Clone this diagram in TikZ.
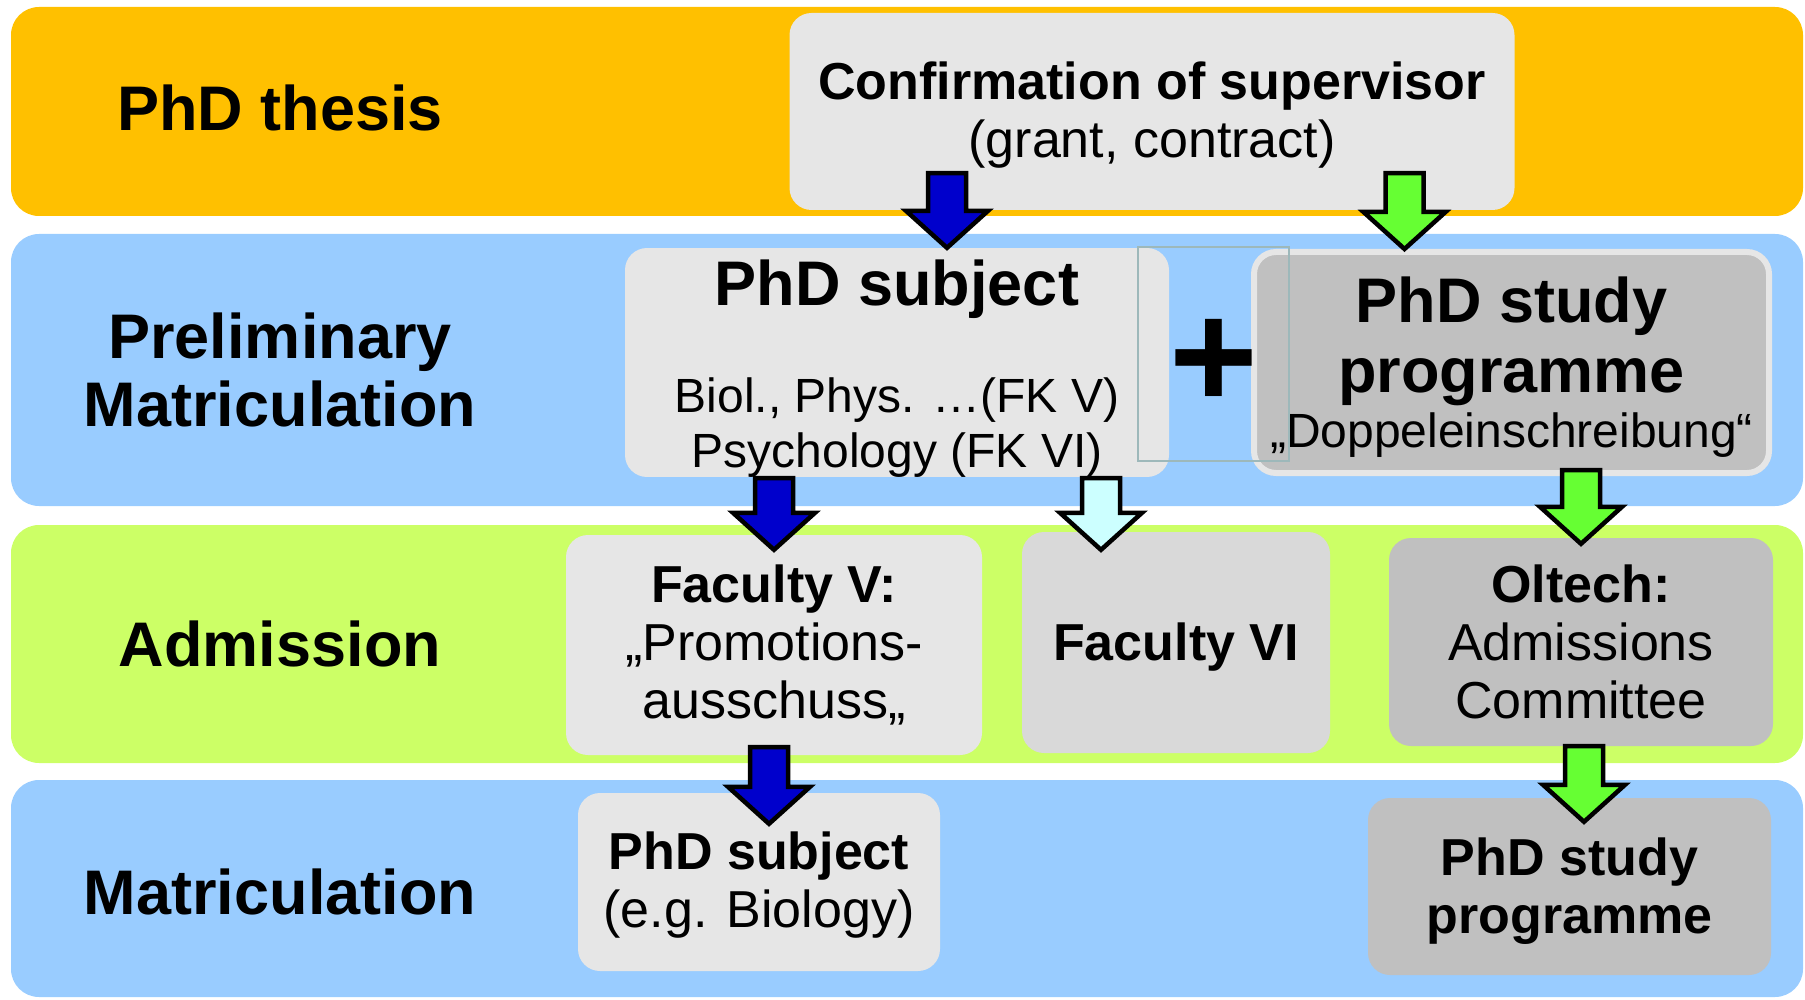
\documentclass[tikz,border=0pt]{standalone}
\usepackage{fontspec}
\setmainfont{Liberation Sans}
\usetikzlibrary{
  calc,
  positioning}

\definecolor{bandorange}{HTML}{FFC000}
\definecolor{bandblue}{HTML}{99CCFF}
\definecolor{bandgreen}{HTML}{CCFF66}
\definecolor{boxlight}{HTML}{E6E6E6}
\definecolor{boxmid}{HTML}{D9D9D9}
\definecolor{boxdark}{HTML}{C0C0C0}
\definecolor{arrowblue}{HTML}{0000CC}
\definecolor{arrowgreen}{HTML}{66FF33}
\definecolor{arrowcyan}{HTML}{CCFFFF}
\definecolor{framegray}{HTML}{9DB8BA}

\begin{document}
\begin{tikzpicture}[x=1pt,y=-1pt]
  \tikzset{band/.style={rounded corners=28pt,
                        fill=#1},
           box/.style={rectangle,
                       rounded corners=22pt,
                       fill=#1,
                       align=center,
                       inner sep=0pt,
                       font=\fontsize{52}{58}\selectfont},
           phase/.style={align=center,
                         font=\fontsize{63}{68}\selectfont\bfseries},
           fat/.style={fill=#1, draw=black, line width=4.5pt,
                       to path={let \p1=(\tikztostart), \p2=(\tikztotarget) in
                                (\x2-19pt,\y1) -- (\x2+19pt,\y1) -- (\x2+19pt,\y2+37pt)
                                -- (\x2+41pt,\y2+37pt) -- (\x2,\y2) -- (\x2-41pt,\y2+37pt)
                                -- (\x2-19pt,\y2+37pt) -- cycle}}
          }

\useasboundingbox (0,0) rectangle (1805,1000);

%%%%%%%%%%%%%%%%%%%%%%%%%%%%%%%%%%%%%%%%%%%%%%%%%%%%%%%%%%%%%%%%%%%%%%%%%%%%%%

\fill[band=bandorange] (11,7) rectangle (1803,216);
\fill[band=bandblue] (11,234) rectangle (1803,506);
\fill[band=bandgreen] (11,525) rectangle (1803,763);
\fill[band=bandblue] (11,780) rectangle (1803,997);

\node[phase] (thesis) at (280,108) {PhD thesis};
\node[phase] (prelim) at (280,369.5) {Preliminary\\Matriculation};
\node[phase] (admis) at (280,643.5) {Admission};
\node[phase] (matric) at (280,891.5) {Matriculation};

%%%%%%%%%%%%%%%%%%%%%%%%%%%%%%%%%%%%%%%%%%%%%%%%%%%%%%%%%%%%%%%%%%%%%%%%%%%%%%

\node[box=boxlight,minimum width=725pt,minimum height=197pt] (conf) at (1152,111.5) {\rule{0pt}{44pt}{\bfseries Confirmation of supervisor}\\(grant, contract)};

\node[box=boxlight,minimum width=544pt,minimum height=227pt,font=\fontsize{48}{51}\selectfont] (subj) at (897,362.5) {\rule{0pt}{57pt}{\fontsize{63}{63}\selectfont\bfseries PhD subject}\\[56pt]Biol., Phys. …(FK V)\\[4pt]Psychology (FK VI)};

\node[box=boxdark,draw=boxlight,line width=6pt,minimum width=515pt,minimum height=221pt,font=\fontsize{48}{51}\selectfont] (study) at (1511.5,362.5) {\rule{0pt}{54pt}{\fontsize{63}{63}\selectfont\bfseries PhD study}\\[19pt]{\fontsize{63}{63}\selectfont\bfseries programme}\\[4pt]„Doppeleinschreibung“};

\node[box=boxlight,minimum width=416pt,minimum height=220pt] (facV) at (774,645) {{\bfseries Faculty V:}\\„Promotions-\\ausschuss„};

\node[box=boxmid,minimum width=308pt,minimum height=221pt] (facVI) at (1176,642.5) {\rule{0pt}{47pt}\bfseries Faculty VI};

\node[box=boxdark,minimum width=384pt,minimum height=208pt] (olt) at (1581,642) {{\bfseries Oltech:}\\Admissions\\Committee};

\node[box=boxlight,minimum width=362pt,minimum height=178pt] (bsubj) at (759,882) {\rule{0pt}{44pt}{\bfseries PhD subject}\\(e.g. Biology)};

\node[box=boxdark,minimum width=403pt,minimum height=177pt] (bstudy) at (1569.5,886.5) {\rule{0pt}{47pt}{\bfseries PhD study}\\{\bfseries programme}};

%%%%%%%%%%%%%%%%%%%%%%%%%%%%%%%%%%%%%%%%%%%%%%%%%%%%%%%%%%%%%%%%%%%%%%%%%%%%%%

\draw[fat=arrowblue]  ([yshift=37pt]conf.south) to ([xshift=50pt]subj.north);
\draw[fat=arrowgreen] ([yshift=37pt]conf.south) to ([xshift=-107pt]study.north);
\draw[fat=arrowblue]  ([yshift=-1pt]subj.south) to ([yshift=-15pt]facV.north);
\draw[fat=arrowcyan]  ([yshift=-1pt]subj.south) to ([xshift=-75pt,yshift=-18pt]facVI.north);
\draw[fat=arrowgreen] ([yshift=6pt]study.south) to ([yshift=-6pt]olt.north);
\draw[fat=arrowblue]  ([yshift=8pt]facV.south) to ([xshift=10pt,yshift=-31pt]bsubj.north);
\draw[fat=arrowgreen] (olt.south) to ([xshift=14.5pt,yshift=-24pt]bstudy.north);

\node[inner sep=0pt,font=\fontsize{152}{152}\selectfont\bfseries] (plus) at (1213.5,364) {+};

\draw[framegray,line width=2pt] (1138,247) rectangle (1289,461);

%%%%%%%%%%%%%%%%%%%%%%%%%%%%%%%%%%%%%%%%%%%%%%%%%%%%%%%%%%%%%%%%%%%%%%%%%%%%%%

\end{tikzpicture}
\end{document}
